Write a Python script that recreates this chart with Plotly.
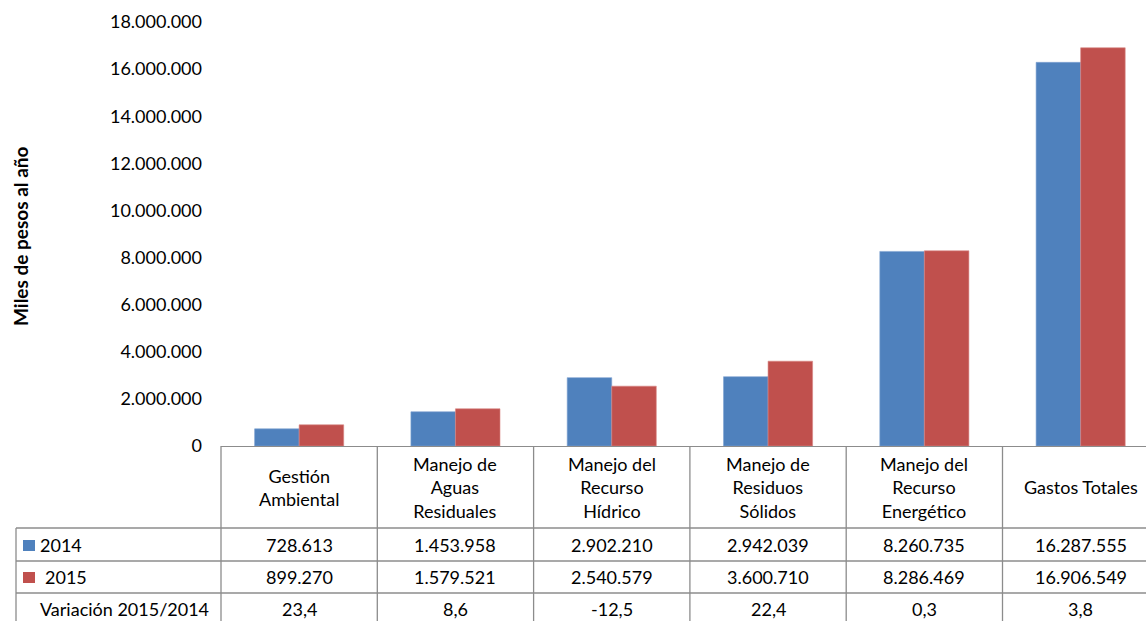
import plotly.graph_objects as go

# ---- data ----
categories = ["Gestión Ambiental", "Manejo de Aguas Residuales", "Manejo del Recurso Hídrico",
              "Manejo de Residuos Sólidos", "Manejo del Recurso Energético", "Gastos Totales"]
category_labels = ["Gestión<br>Ambiental", "Manejo de<br>Aguas<br>Residuales", "Manejo del<br>Recurso<br>Hídrico",
                   "Manejo de<br>Residuos<br>Sólidos", "Manejo del<br>Recurso<br>Energético", "Gastos Totales"]
values_2014 = [728613, 1453958, 2902210, 2942039, 8260735, 16287555]
values_2015 = [899270, 1579521, 2540579, 3600710, 8286469, 16906549]
variacion = ["23,4", "8,6", "-12,5", "22,4", "0,3", "3,8"]
y_ticks = [0, 2000000, 4000000, 6000000, 8000000, 10000000, 12000000, 14000000, 16000000, 18000000]

# ---- style ----
W, H = 1146, 621
L, T, B = 221, 22, 175
PW, PH = W - L, H - T - B
BLUE = "#4F81BD"
RED = "#C0504D"
GRID = "#8C8C8C"
FONT = "Lato"
FS = 18

def px(x):  # pixel -> paper x
    return (x - L) / PW

def py(y):  # pixel -> paper y
    return (H - B - y) / PH

def fmt(v):
    return f"{v:,}".replace(",", ".")

fig = go.Figure()
fig.add_trace(go.Bar(x=categories, y=values_2014, name="2014", marker_color=BLUE,
                     marker_line=dict(color="#7FA3D1", width=0.6)))
fig.add_trace(go.Bar(x=categories, y=values_2015, name="2015", marker_color=RED,
                     marker_line=dict(color="#D98684", width=0.6)))

n = len(categories)
cat_w = 156.3
x_hi = -0.5 + PW / cat_w

shapes = []
line = dict(color=GRID, width=1.3)
# table horizontal lines (header bottom and row separators)
row_edges = [528, 561, 593]
for yy in row_edges:
    shapes.append(dict(type="line", xref="paper", yref="paper", x0=px(16), x1=1.02,
                       y0=py(yy), y1=py(yy), line=line))
# left column vertical line
shapes.append(dict(type="line", xref="paper", yref="paper", x0=px(16), x1=px(16),
                   y0=py(528), y1=py(H + 10), line=line))
# plot-left vertical line
shapes.append(dict(type="line", xref="paper", yref="paper", x0=0, x1=0,
                   y0=0, y1=py(H + 10), line=line))
# category separators
for i in range(n - 1):
    shapes.append(dict(type="line", xref="x", yref="paper", x0=i + 0.5, x1=i + 0.5,
                       y0=0, y1=py(H + 10), line=line))
# legend keys
shapes.append(dict(type="rect", xref="paper", yref="paper", x0=px(23), x1=px(35),
                   y0=py(540), y1=py(551), fillcolor=BLUE, line=dict(width=0)))
shapes.append(dict(type="rect", xref="paper", yref="paper", x0=px(23), x1=px(35),
                   y0=py(572), y1=py(583), fillcolor=RED, line=dict(width=0)))

ann = []
tf = dict(family=FONT, size=FS, color="#000000")
for i in range(n):
    ann.append(dict(x=i, y=py(487), xref="x", yref="paper", text=category_labels[i],
                    showarrow=False, font=tf, xanchor="center", yanchor="middle", align="center"))
    ann.append(dict(x=i, y=py(545), xref="x", yref="paper", text=fmt(values_2014[i]),
                    showarrow=False, font=tf, xanchor="center", yanchor="middle"))
    ann.append(dict(x=i, y=py(577), xref="x", yref="paper", text=fmt(values_2015[i]),
                    showarrow=False, font=tf, xanchor="center", yanchor="middle"))
    ann.append(dict(x=i, y=py(609), xref="x", yref="paper", text=variacion[i],
                    showarrow=False, font=tf, xanchor="center", yanchor="middle"))
ann.append(dict(x=px(38), y=py(545), xref="paper", yref="paper", text="2014", showarrow=False,
                font=tf, xanchor="left", yanchor="middle"))
ann.append(dict(x=px(43), y=py(577), xref="paper", yref="paper", text="2015", showarrow=False,
                font=tf, xanchor="left", yanchor="middle"))
ann.append(dict(x=px(38), y=py(609), xref="paper", yref="paper", text="Variación 2015/2014",
                showarrow=False, font=tf, xanchor="left", yanchor="middle"))
ann.append(dict(x=px(20), y=py(236), xref="paper", yref="paper", text="<b>Miles de pesos al año</b>",
                showarrow=False, textangle=-90, font=dict(family=FONT, size=19, color="#000000"),
                xanchor="center", yanchor="middle"))

fig.update_layout(
    width=W, height=H,
    margin=dict(l=L, r=0, t=T, b=B, autoexpand=False),
    paper_bgcolor="white", plot_bgcolor="white",
    barmode="group", bargap=0.43, bargroupgap=0,
    showlegend=False,
    separators=",.",
    font=dict(family=FONT, size=FS, color="#000000"),
    xaxis=dict(range=[-0.5, x_hi], showticklabels=False, ticks="", showgrid=False,
               showline=True, linecolor=GRID, linewidth=1.3, zeroline=False, fixedrange=True),
    yaxis=dict(range=[0, 18000000], tickvals=y_ticks, ticktext=[fmt(v) for v in y_ticks],
               showgrid=False, zeroline=False, showline=False, ticks="",
               ticklabelstandoff=18, tickfont=dict(family=FONT, size=FS, color="#000000"),
               automargin=False, fixedrange=True),
    shapes=shapes, annotations=ann,
)

fig.write_html("out.html", config={"displayModeBar": False},
               post_script="document.body.style.margin='0';document.body.style.overflow='hidden';")
